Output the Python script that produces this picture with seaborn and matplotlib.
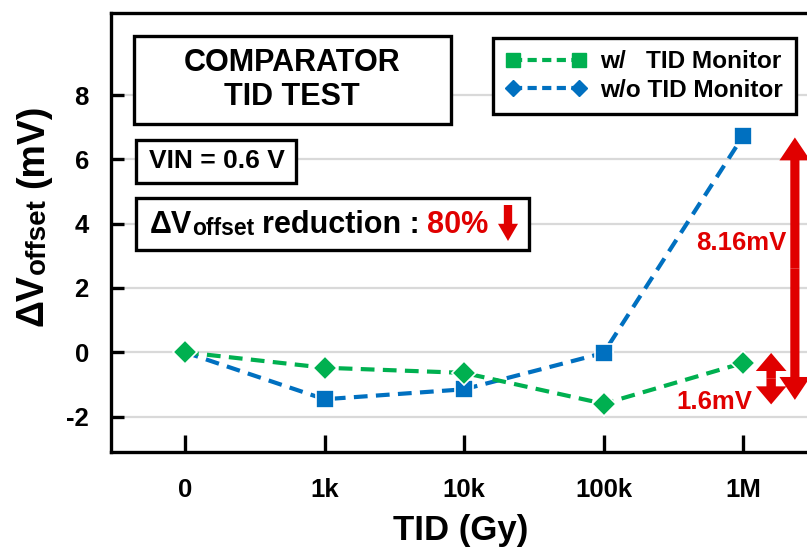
import matplotlib
matplotlib.use("Agg")
import matplotlib.pyplot as plt
import numpy as np
import pandas as pd
import seaborn as sns
from matplotlib.lines import Line2D
from matplotlib.patches import Rectangle

# ---------------- data ----------------
categories = ["0", "1k", "10k", "100k", "1M"]
w_monitor = [0.0, -0.48, -0.64, -1.60, -0.33]      # green diamonds
wo_monitor = [0.0, -1.46, -1.15, -0.02, 6.73]      # blue squares
y_ticks = [-2, 0, 2, 4, 6, 8]
legend_labels = ["w/   TID Monitor", "w/o TID Monitor"]

GREEN = "#00B050"
BLUE = "#0070C0"
RED = "#E00000"

sns.set_theme(style="white")
plt.rcParams["font.family"] = ["Liberation Sans", "DejaVu Sans"]
plt.rcParams["font.weight"] = "bold"
for k in ["text.color", "axes.labelcolor", "xtick.color", "ytick.color",
          "axes.edgecolor"]:
    plt.rcParams[k] = "black"

W, H = 807, 550
fig = plt.figure(figsize=(W / 100, H / 100), dpi=100)
ax = fig.add_axes([111 / W, 98 / H, (820 - 111) / W, (537 - 98) / H])

df = pd.DataFrame({"TID": categories, "w": w_monitor, "wo": wo_monitor})

sns.lineplot(data=df, x="TID", y="wo", sort=False, ax=ax, color=BLUE,
             marker="s", markersize=12.5, markeredgecolor="white",
             markeredgewidth=1.2, linewidth=3, linestyle="--", zorder=3,
             markevery=[1, 2, 3, 4])
sns.lineplot(data=df, x="TID", y="w", sort=False, ax=ax, color=GREEN,
             marker="D", markersize=12, markeredgecolor="white",
             markeredgewidth=1.2, linewidth=3, linestyle="--", zorder=4)
for ln in ax.lines:
    ln.set_dashes((3.3, 2.0))

ax.set_xlim(-0.53, 4.55)
ax.set_ylim(-3.1, 10.55)
ax.set_yticks(y_ticks)
ax.set_yticklabels([str(v) for v in y_ticks])
ax.set_xlabel("")
ax.set_ylabel("")
ax.yaxis.grid(True, color="#D9D9D9", linewidth=1.6, zorder=0)
ax.xaxis.grid(False)
ax.set_axisbelow(True)

for s in ["left", "top", "bottom", "right"]:
    ax.spines[s].set_color("black")
    ax.spines[s].set_linewidth(2.4)
ax.tick_params(axis="both", direction="in", width=2.4, colors="black",
               labelsize=18.5)
ax.tick_params(axis="y", length=9.5, pad=16, left=True)
ax.tick_params(axis="x", length=12, pad=19, bottom=True)
for t in ax.get_xticklabels() + ax.get_yticklabels():
    t.set_fontweight("bold")
    t.set_color("black")


def fpx(x, y):
    return (x / W, 1 - y / H)


# x label
ax.text(*fpx(461, 540), "TID (Gy)", transform=fig.transFigure, ha="center",
        va="baseline", fontsize=25, fontweight="bold", zorder=12)

# y label composed (rotated)
y0 = ax.text(*fpx(51, 326), "ΔV", transform=fig.transFigure, rotation=90,
             ha="right", va="bottom", fontsize=27, fontweight="bold", zorder=12)
y1 = ax.annotate("offset", xy=(1, 1), xycoords=y0, xytext=(0, 0),
                 textcoords="offset points", rotation=90, ha="right",
                 va="bottom", fontsize=20, fontweight="bold", zorder=12)
y2 = ax.annotate("(mV)", xy=(1, 1), xycoords=y1, xytext=(0, 7.5),
                 textcoords="offset points", rotation=90, ha="right",
                 va="bottom", fontsize=27, fontweight="bold", zorder=12)


# boxes
def box(x0, y0_, x1, y1_):
    r = Rectangle((x0 / W, 1 - y1_ / H), (x1 - x0) / W, (y1_ - y0_) / H,
                  transform=fig.transFigure, facecolor="white",
                  edgecolor="black", linewidth=2.4, zorder=10, clip_on=False)
    ax.add_patch(r)


box(134, 36, 451, 124)
ax.text(*fpx(292, 71), "COMPARATOR", transform=fig.transFigure, ha="center",
        va="baseline", fontsize=22, fontweight="bold", zorder=12)
ax.text(*fpx(292, 105), "TID TEST", transform=fig.transFigure, ha="center",
        va="baseline", fontsize=22, fontweight="bold", zorder=12)

box(136, 140, 296, 183)
ax.text(*fpx(149, 168), "VIN = 0.6 V", transform=fig.transFigure, ha="left",
        va="baseline", fontsize=19, fontweight="bold", zorder=12)

box(136, 198, 529, 250)
t0 = ax.text(*fpx(150, 233), "ΔV", transform=fig.transFigure, ha="left",
             va="baseline", fontsize=22, fontweight="bold", zorder=12)
t1 = ax.annotate("offset", xy=(1, 0), xycoords=t0, xytext=(0, 0),
                 textcoords="offset points", ha="left", va="bottom",
                 fontsize=16.5, fontweight="bold", zorder=12)
t2 = ax.annotate("reduction :", xy=(1, 0), xycoords=t1, xytext=(5.5, 0),
                 textcoords="offset points", ha="left", va="bottom",
                 fontsize=22, fontweight="bold", zorder=12)
t3 = ax.annotate("80%", xy=(1, 0), xycoords=t2, xytext=(5.5, 0),
                 textcoords="offset points", ha="left", va="bottom",
                 fontsize=22, fontweight="bold", color=RED, zorder=12)
ax.annotate("", xy=(508, H - 241), xycoords="figure pixels",
            xytext=(508, H - 205), textcoords="figure pixels",
            arrowprops=dict(
                arrowstyle="simple,head_length=0.62,head_width=0.72,tail_width=0.3",
                fc=RED, ec="none", lw=0, mutation_scale=20,
                shrinkA=0, shrinkB=0), zorder=12)

# legend
handles = [
    Line2D([0], [0], color=GREEN, marker="s", markersize=9.5, linestyle="--",
           linewidth=3, dashes=(2.2, 1.3)),
    Line2D([0], [0], color=BLUE, marker="D", markersize=8, linestyle="--",
           linewidth=3, dashes=(2.2, 1.3)),
]
leg = ax.legend(handles, legend_labels, loc="upper left",
                bbox_to_anchor=(493 / W, 1 - 38 / H),
                bbox_transform=fig.transFigure, borderaxespad=0,
                numpoints=2, handlelength=3.3, handletextpad=0.6,
                labelspacing=0.22, borderpad=0.5, fancybox=False,
                framealpha=1, edgecolor="black",
                prop=dict(family=["Liberation Sans"], weight="bold", size=17.6))
leg.get_frame().set_linewidth(2.4)
leg.set_zorder(12)
for txt in leg.get_texts():
    txt.set_color("black")


# red double arrows (annotations): two filled heads from the midpoint
def double_arrow(x, ya, yb, ms=30, hl=0.55, hw=0.74, tw=0.22):
    mid = (ya + yb) / 2
    style = f"simple,head_length={hl},head_width={hw},tail_width={tw}"
    for end in (ya, yb):
        ax.annotate("", xy=(x, end), xytext=(x, mid), xycoords="data",
                    arrowprops=dict(arrowstyle=style, fc=RED, ec="none", lw=0,
                                    mutation_scale=ms, shrinkA=0, shrinkB=0),
                    zorder=6)


double_arrow(4.37, 6.68, -1.48)
double_arrow(4.2, -0.02, -1.62, ms=26, hl=0.5, hw=0.85, tw=0.26)
ax.text(*fpx(741, 243), "8.16mV", transform=fig.transFigure, ha="center",
        va="center", fontsize=18.5, fontweight="bold", color=RED, zorder=7)
ax.text(*fpx(714, 402), "1.6mV", transform=fig.transFigure, ha="center",
        va="center", fontsize=18.5, fontweight="bold", color=RED, zorder=7)

fig.savefig("out.png", dpi=100)
